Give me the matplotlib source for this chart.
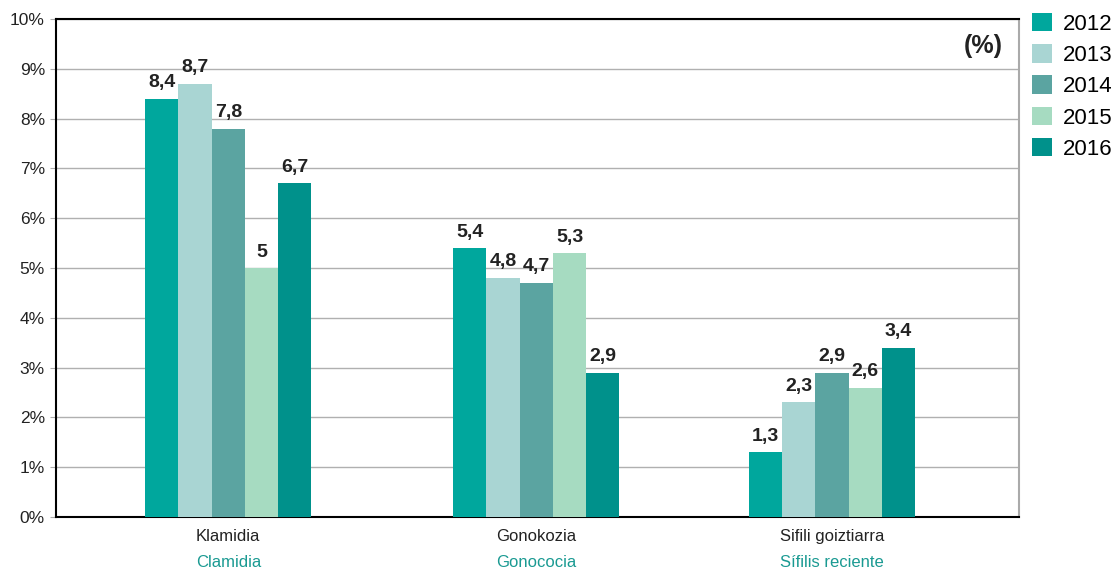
import matplotlib.pyplot as plt
import numpy as np

plt.rcParams['font.family'] = ['Liberation Sans', 'DejaVu Sans']

years = ['2012', '2013', '2014', '2015', '2016']
categories_eu = ['Klamidia', 'Gonokozia', 'Sifili goiztiarra']
categories_es = ['Clamidia', 'Gonococia', 'Sífilis reciente']
values = {
    '2012': [8.4, 5.4, 1.3],
    '2013': [8.7, 4.8, 2.3],
    '2014': [7.8, 4.7, 2.9],
    '2015': [5.0, 5.3, 2.6],
    '2016': [6.7, 2.9, 3.4],
}
colors = ['#00a79d', '#a9d5d3', '#5ba4a1', '#a6dbc1', '#00918b']

fig = plt.figure(figsize=(11.2, 5.73), dpi=100)
ax = fig.add_axes([56 / 1120, 1 - 517 / 573, 963 / 1120, 498 / 573])

x = np.array([0, 1.01, 1.98])
w = 0.109
for i, (yr, c) in enumerate(zip(years, colors)):
    pos = x + (i - 2) * w
    bars = ax.bar(pos, values[yr], width=w, color=c, label=yr, zorder=3)
    for b, v in zip(bars, values[yr]):
        txt = f"{v:g}".replace('.', ',')
        ax.text(b.get_x() + b.get_width() / 2, v + 0.15, txt, ha='center', va='bottom',
                fontsize=14, fontweight='bold', color='#222222', zorder=4)

ax.set_xlim(-0.565, 2.593)
ax.set_ylim(0, 10)
ax.set_yticks(np.arange(0, 11, 1))
ax.set_yticklabels([f"{t}%" for t in range(11)], fontsize=12.5, color='#222222')
ax.tick_params(axis='y', length=4, color='#aaaaaa', pad=4)
ax.grid(axis='y', color='#b0b0b0', linewidth=1, zorder=0)

ax.set_xticks(x)
ax.set_xticklabels([])
ax.tick_params(axis='x', length=0)
for xi, eu, es in zip(x, categories_eu, categories_es):
    ax.text(xi, -0.25, eu, ha='center', va='top', fontsize=12, color='#222222')
    ax.text(xi, -0.77, es, ha='center', va='top', fontsize=12, color='#1a9a92')

for s in ['left', 'top', 'bottom']:
    ax.spines[s].set_color('black')
    ax.spines[s].set_linewidth(1.5)
ax.spines['right'].set_color('#aaaaaa')
ax.spines['right'].set_linewidth(1.5)

ax.text(0.983, 0.945, '(%)', transform=ax.transAxes, ha='right', va='center',
        fontsize=18, fontweight='bold', color='#222222')

fig.legend(loc='upper left', bbox_to_anchor=(1032 / 1120, 1 - 13 / 573), frameon=False,
           fontsize=16, handlelength=0.9, handleheight=0.9, handletextpad=0.5,
           labelspacing=0.42, borderaxespad=0, borderpad=0)

fig.savefig('out.png', dpi=100)
